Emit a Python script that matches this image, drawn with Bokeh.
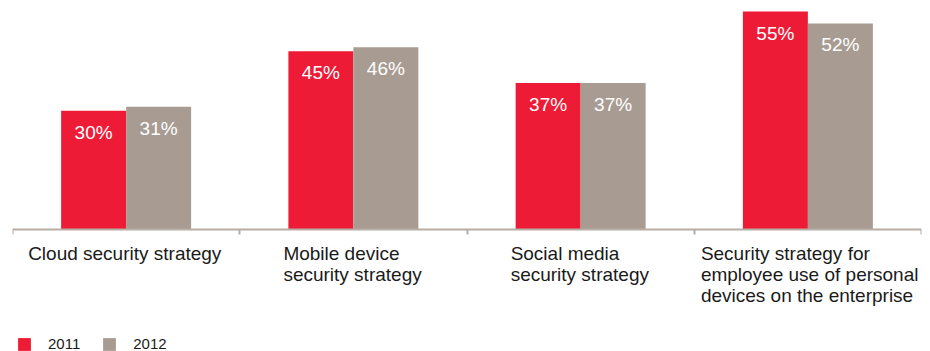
import numpy as np
from bokeh.plotting import figure
from bokeh.models import (ColumnDataSource, Range1d, FixedTicker, LabelSet,
                          Legend, LegendItem)
from bokeh.core.properties import value
from bokeh.embed import file_html
from bokeh.resources import INLINE

# ---- data ----
categories = [
    "Cloud security strategy",
    "Mobile device\nsecurity strategy",
    "Social media\nsecurity strategy",
    "Security strategy for\nemployee use of personal\ndevices on the enterprise",
]
series_names = ["2011", "2012"]
values_2011 = [30, 45, 37, 55]
values_2012 = [31, 46, 37, 52]

# ---- style ----
RED = "#ED1B36"
GRAY = "#A89C92"
AXIS = "#B8ADA5"
FONT = value("Liberation Sans")
label_x_offsets = [-98, -70, -70, -107]  # left-align text blocks (screen px)

n = len(categories)
centers = np.arange(n) + 0.5
bar_w = 0.286
dodge = 0.143

p = figure(width=930, height=351, output_backend="svg", toolbar_location=None,
           title=None, x_range=Range1d(0, n), y_range=Range1d(-30.8, 57.8),
           min_border_left=12, min_border_right=9, min_border_top=0,
           min_border_bottom=0, y_axis_location=None)
p.outline_line_color = None
p.grid.visible = False
p.background_fill_color = "white"
p.border_fill_color = "white"

src = ColumnDataSource(dict(
    x1=centers - dodge, x2=centers + dodge,
    v1=values_2011, v2=values_2012,
    t1=[f"{v}%" for v in values_2011], t2=[f"{v}%" for v in values_2012],
))

r1 = p.vbar(x="x1", top="v1", width=bar_w, bottom=0, source=src,
            fill_color=RED, line_color=None)
r2 = p.vbar(x="x2", top="v2", width=bar_w, bottom=0, source=src,
            fill_color=GRAY, line_color=None)

for xcol, ycol, tcol in (("x1", "v1", "t1"), ("x2", "v2", "t2")):
    p.add_layout(LabelSet(x=xcol, y=ycol, text=tcol, source=src,
                          y_offset=-11, text_align="center", text_baseline="top",
                          text_color="white", text_font=FONT,
                          text_font_size="19px"))

# x axis: ticks at category boundaries, drawn at y = 0
ax = p.xaxis[0]
ax.fixed_location = 0
ax.ticker = FixedTicker(ticks=list(range(n + 1)), minor_ticks=[])
ax.major_label_text_color = None
ax.axis_line_color = AXIS
ax.axis_line_width = 2
ax.major_tick_line_color = AXIS
ax.major_tick_line_width = 2
ax.major_tick_out = 5
ax.major_tick_in = 0
ax.minor_tick_line_color = None

# category labels
cat_src = ColumnDataSource(dict(x=centers, y=[0] * n, text=categories,
                                xo=label_x_offsets))
p.add_layout(LabelSet(x="x", y="y", text="text", source=cat_src,
                      x_offset="xo", y_offset=-14, text_align="left",
                      text_baseline="top", text_color="#1a1a1a",
                      text_font=FONT, text_font_size="19px",
                      text_line_height=1.0))

legend = Legend(items=[LegendItem(label=series_names[0], renderers=[r1]),
                       LegendItem(label=series_names[1], renderers=[r2])],
                location=(4, -1), orientation="horizontal",
                glyph_width=16, glyph_height=16, label_height=16,
                label_standoff=16, spacing=21, padding=0, margin=0,
                border_line_color=None, background_fill_alpha=0,
                label_text_font="Liberation Sans", label_text_font_size="15px",
                label_text_color="#1a1a1a")
p.add_layout(legend, "center")

open("out.html", "w").write(file_html(p, INLINE))
